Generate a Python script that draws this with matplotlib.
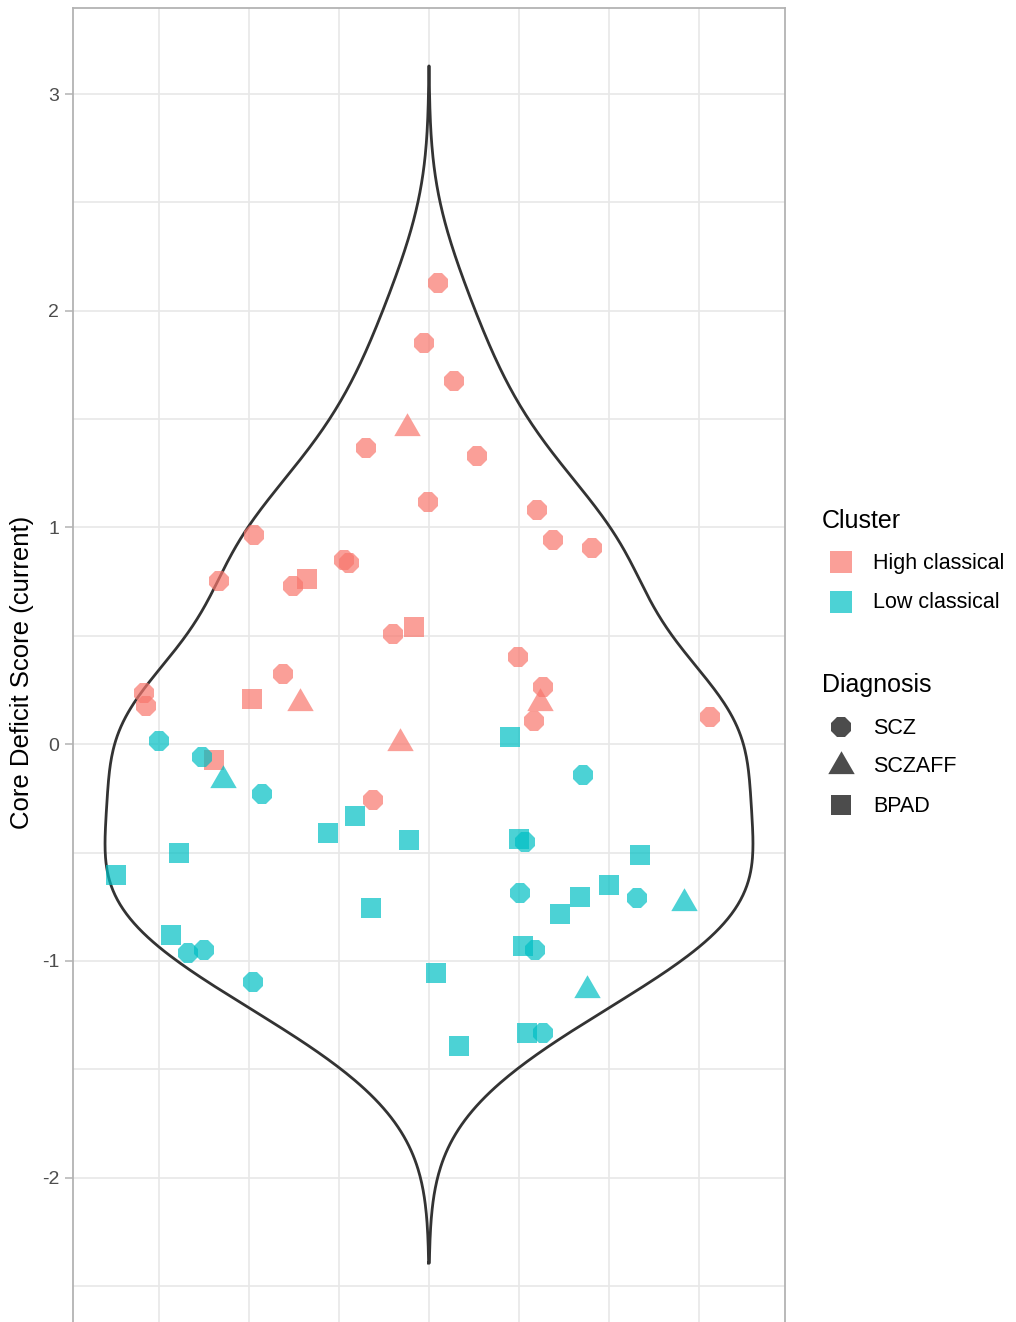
import numpy as np
import matplotlib
matplotlib.use('Agg')
import matplotlib.pyplot as plt

plt.rcParams['font.family'] = ['Liberation Sans', 'DejaVu Sans']

# ---- data: one row per subject ----
score = [2.127, 1.850, 1.678, 1.369, 1.330, 1.118, 1.081, 0.943, 0.905, 0.967,
         0.755, 0.732, 0.851, 0.835, 0.509, 0.322, 0.403, 0.266, 0.108, 0.125,
         0.236, 0.177, -0.256,
         1.459, 0.191, 0.006, 0.190,
         0.763, 0.543, 0.209, -0.072,
         0.014, -0.057, -0.229, -0.143, -0.449, -0.687, -0.710, -0.948, -0.964, -0.948,
         -1.097, -1.333,
         -0.164, -0.733, -1.133,
         -0.604, -0.504, -0.882, -0.410, -0.333, -0.440, -0.755, -1.056, -1.391, 0.033,
         -0.436, -0.933, -1.333, -0.782, -0.707, -0.649, -0.513]
jitter = [0.026, -0.013, 0.069, -0.174, 0.134, -0.003, 0.301, 0.344, 0.454, -0.486,
          -0.583, -0.379, -0.236, -0.221, -0.099, -0.406, 0.247, 0.316, 0.292, 0.781,
          -0.791, -0.787, -0.156,
          -0.062, -0.358, -0.081, 0.308,
          -0.338, -0.041, -0.492, -0.597,
          -0.749, -0.631, -0.464, 0.429, 0.268, 0.253, 0.577, 0.294, -0.670, -0.625,
          -0.488, 0.316,
          -0.573, 0.708, 0.438,
          -0.869, -0.694, -0.716, -0.281, -0.205, -0.056, -0.162, 0.019, 0.083, 0.225,
          0.251, 0.262, 0.271, 0.364, 0.419, 0.501, 0.586]
cluster = ['High classical'] * 31 + ['Low classical'] * 32
diagnosis = (['SCZ'] * 23 + ['SCZAFF'] * 4 + ['BPAD'] * 4 +
             ['SCZ'] * 12 + ['SCZAFF'] * 3 + ['BPAD'] * 17)

cluster_levels = ['High classical', 'Low classical']
diag_levels = ['SCZ', 'SCZAFF', 'BPAD']
y_ticks = [-2, -1, 0, 1, 2, 3]

# ---- styling ----
cluster_colors = {'High classical': '#F8766D', 'Low classical': '#00BFC4'}
tri = [(-1.0, -0.577), (1.0, -0.577), (0.0, 1.155)]
diag_markers = {'SCZ': '8', 'SCZAFF': tri, 'BPAD': 's'}
diag_sizes = {'SCZ': 15.5, 'SCZAFF': 22, 'BPAD': 14.5}
ALPHA = 0.7

score = np.array(score)
jitter = np.array(jitter)
cluster = np.array(cluster)
diagnosis = np.array(diagnosis)

W, H = 1016, 1322
fig = plt.figure(figsize=(W / 100, H / 100), dpi=100)

# panel: x 73..785 px, y 8..1325 px
ax = fig.add_axes([73 / W, 1 - 1325 / H, 712 / W, 1317 / H])
ax.set_xlim(-0.989, 0.989)
ax.set_ylim(-2.680, 3.397)

# ---- violin (gaussian kde, bw.nrd0, untrimmed) ----
n = len(score)
iqr = np.subtract(*np.percentile(score, [75, 25]))
bw = 0.9 * min(score.std(ddof=1), iqr / 1.34) * n ** (-0.2)
grid = np.linspace(score.min() - 3 * bw, score.max() + 3 * bw, 512)
dens = np.exp(-0.5 * ((grid[:, None] - score[None, :]) / bw) ** 2).sum(axis=1)
half = dens / dens.max() * 0.9
vx = np.concatenate([-half, half[::-1], [-half[0]]])
vy = np.concatenate([grid, grid[::-1], [grid[0]]])
ax.plot(vx, vy, color='#333333', lw=2.0, zorder=3, solid_joinstyle='round')

# ---- points ----
for c in cluster_levels:
    for d in diag_levels:
        m = (cluster == c) & (diagnosis == d)
        ax.plot(jitter[m], score[m], linestyle='none', marker=diag_markers[d],
                ms=diag_sizes[d], color=cluster_colors[c], alpha=ALPHA,
                markeredgewidth=0, zorder=4)

# ---- axes style ----
ax.set_yticks(y_ticks)
ax.set_yticklabels([str(t) for t in y_ticks])
ax.set_yticks(np.arange(-2.5, 3.0, 1.0), minor=True)
ax.set_xticks(np.arange(-0.75, 0.76, 0.25))
ax.set_xticklabels([])
ax.tick_params(axis='x', length=0)
ax.tick_params(axis='y', which='major', length=6, width=1.1, color='#B3B3B3',
               labelsize=14, labelcolor='#4D4D4D', pad=4)
ax.tick_params(axis='y', which='minor', length=0)
ax.grid(True, which='both', color='#E8E8E8', lw=1.2, zorder=0)
ax.set_axisbelow(True)
for s in ax.spines.values():
    s.set_color('#B3B3B3')
    s.set_linewidth(1.3)

# ---- overlay for axis title and legends, in pixel coordinates ----
ov = fig.add_axes([0, 0, 1, 1], facecolor='none')
ov.set_xlim(0, W)
ov.set_ylim(H, 0)
ov.axis('off')

ov.text(22, 672, 'Core Deficit Score (current)', rotation=90, ha='center',
        va='center', fontsize=18.5, color='black')

ov.text(822, 521, 'Cluster', ha='left', va='center', fontsize=18)
for i, c in enumerate(cluster_levels):
    yy = 562 + 40 * i
    ov.plot(841, yy, marker='s', ms=16, color=cluster_colors[c], alpha=ALPHA,
            markeredgewidth=0, linestyle='none')
    ov.text(873, yy + 1, c, ha='left', va='center', fontsize=15.5)

ov.text(822, 685, 'Diagnosis', ha='left', va='center', fontsize=18)
for i, d in enumerate(diag_levels):
    yy = 727 + 39 * i
    ov.plot(841, yy, marker=diag_markers[d], ms=diag_sizes[d], color='black',
            alpha=ALPHA, markeredgewidth=0, linestyle='none')
    ov.text(873, yy + 1, d, ha='left', va='center', fontsize=15.5)

fig.savefig('out.png', dpi=100)
